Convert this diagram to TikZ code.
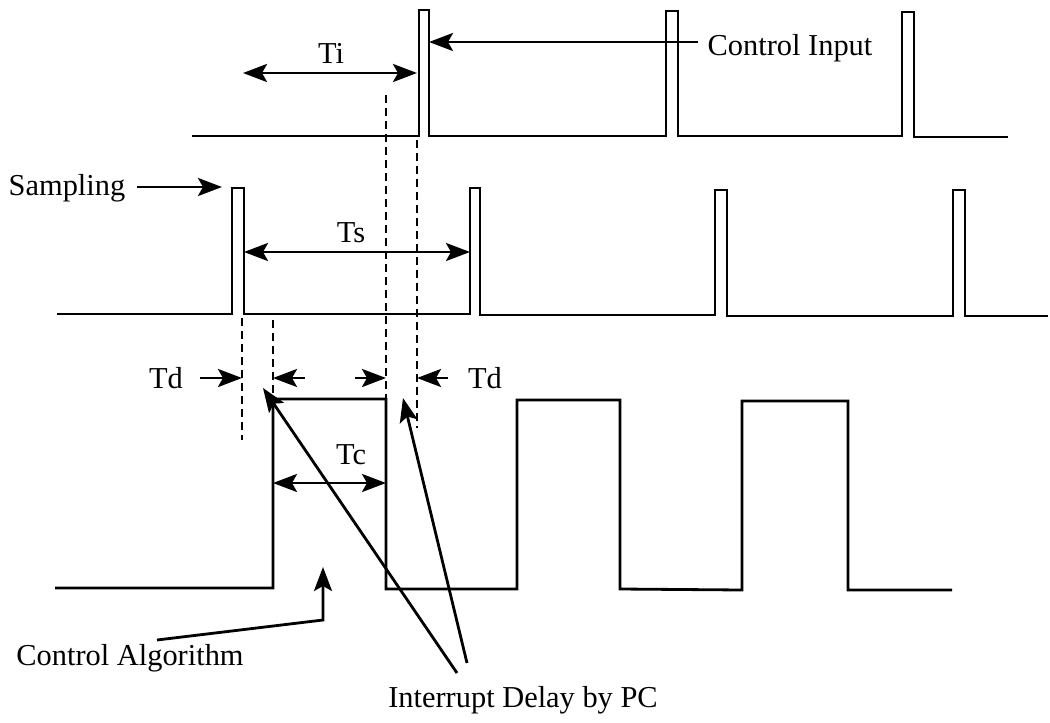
\documentclass[tikz,border=0pt]{standalone}
\usepackage{fontspec}
\setmainfont{Liberation Serif}
\usetikzlibrary{arrows.meta, positioning, calc}

\begin{document}
\begin{tikzpicture}[x = 0.5pt, y = -0.5pt, line width = 1.4pt,
    every node/.style = {font=\fontsize{15.2}{18}\selectfont, inner sep=2pt},
    tip/.style = {-{Stealth[length=12pt, width=9pt, inset=2.5pt]}},
    dtip/.style = {{Stealth[length=12pt, width=9pt, inset=2.5pt]}-{Stealth[length=12pt, width=9pt, inset=2.5pt]}},
    guide/.style = {line width=1.1pt, dash pattern=on 4pt off 2.5pt}]

    \useasboundingbox (0,0) rectangle (1050,723);

    % Segnale di ingresso
    \draw (192,136) -- (419,136) -- (419,10) -- (429,10) -- (429,136)
        -- (666,136) -- (666,11) -- (678,11) -- (678,136)
        -- (902,136) -- (902,12) -- (914,12) -- (914,137) -- (1008,137);

    % Campionamento
    \draw (57,314) -- (232,314) -- (232,188) -- (244,188) -- (244,314)
        -- (470,314) -- (470,188) -- (480,188) -- (480,315)
        -- (715,315) -- (715,190) -- (727,190) -- (727,316)
        -- (953,316) -- (953,190) -- (965,190) -- (965,316) -- (1048,316);

    % Algoritmo di controllo
    \draw (55,588) -- (273,588) -- (273,399) -- (386,399) -- (386,589)
        -- (517,589) -- (517,400) -- (620,400) -- (620,589)
        -- (742,590) -- (742,401) -- (848,401) -- (848,590) -- (952,590);

    % Linee tratteggiate
    \draw[guide] (242,318) -- (242,440);
    \draw[guide] (273,320) -- (273,399);
    \draw[guide] (386,95) -- (386,399);
    \draw[guide] (417,140) -- (417,428);

    % Etichette
    \node (cin) at (790,48) {Control Input};
    \node (ti) at (331,53) {Ti};
    \node (samp) at (67,188) {Sampling};
    \node (ts) at (351,233) {Ts};
    \node (tdl) at (166,378) {Td};
    \node (tdr) at (485,378) {Td};
    \node (tc) at (351,455) {Tc};
    \node (calg) at (130,658) {Control Algorithm};
    \node (idpc) at (523,700) {Interrupt Delay by PC};

    % Punti delle frecce
    \coordinate (cin-a) at (698,42);
    \coordinate (cin-b) at (429,42);
    \coordinate (ti-a) at (243,73);
    \coordinate (ti-b) at (417,73);
    \coordinate (samp-a) at (137,187);
    \coordinate (samp-b) at (222,187);
    \coordinate (ts-a) at (244,252);
    \coordinate (ts-b) at (470,252);
    \coordinate (tc-a) at (273,483);
    \coordinate (tc-b) at (386,483);
    \coordinate (calg-a) at (157,640);
    \coordinate (calg-k) at (323,620);
    \coordinate (calg-b) at (323,567);
    \coordinate (id-a) at (457,673);
    \coordinate (id-b) at (263,388);
    \coordinate (id-c) at (467,663);
    \coordinate (id-d) at (403,398);

    % Frecce
    \draw[tip] (cin-a) -- (cin-b);
    \draw[dtip] (ti-a) -- (ti-b);
    \draw[tip] (samp-a) -- (samp-b);
    \draw[dtip] (ts-a) -- (ts-b);
    \draw[dtip] (tc-a) -- (tc-b);

    % Ritardi Td
    \draw[tip] (200,378) -- (242,378);
    \draw[tip] (305,378) -- (273,378);
    \draw[tip] (355,378) -- (386,378);
    \draw[tip] (448,378) -- (417,378);

    % Frecce verso le etichette in basso
    \draw[tip] (calg-a) -- (calg-k) -- (calg-b);
    \draw[tip] (id-a) -- (id-b);
    \draw[tip] (id-c) -- (id-d);

\end{tikzpicture}
\end{document}
